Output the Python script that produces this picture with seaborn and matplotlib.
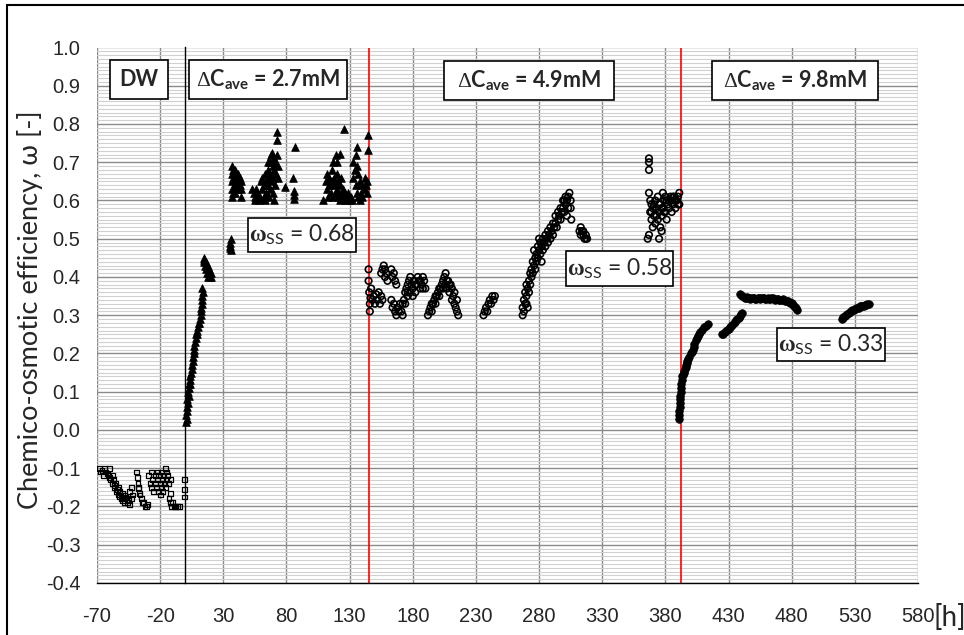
import matplotlib
matplotlib.use("Agg")
import matplotlib.pyplot as plt
from matplotlib.patches import Rectangle
from matplotlib.ticker import MultipleLocator
import numpy as np
import pandas as pd
import seaborn as sns

# ---------------- data: elapsed time [h] vs chemico-osmotic efficiency ----------------
dw_points = [
    (-68, -0.10), (-67, -0.11), (-66, -0.105), (-65, -0.12), (-64, -0.10), (-63, -0.11),
    (-62, -0.115), (-61, -0.12), (-60, -0.10), (-60, -0.125), (-59, -0.13), (-58, -0.12),
    (-58, -0.14), (-57, -0.13), (-56, -0.145), (-56, -0.15), (-55, -0.14), (-55, -0.16),
    (-54, -0.155), (-53, -0.15), (-53, -0.17), (-52, -0.16), (-52, -0.175), (-51, -0.17),
    (-51, -0.18), (-50, -0.165), (-50, -0.185), (-49, -0.18), (-48, -0.19), (-48, -0.17),
    (-47, -0.175), (-46, -0.19), (-45, -0.185), (-44, -0.16), (-44, -0.195), (-43, -0.15),
    (-43, -0.18), (-42, -0.17),
    (-38.5, -0.11), (-38, -0.125), (-37.5, -0.14), (-37.3, -0.152), (-37, -0.15), (-36.5, -0.165),
    (-36, -0.17), (-35, -0.18), (-34, -0.19), (-33, -0.19), (-32, -0.20), (-31, -0.20), (-30, -0.195),
    (-29, -0.12), (-28, -0.14), (-27, -0.11), (-27, -0.15), (-26, -0.13), (-25, -0.16),
    (-24, -0.12), (-24, -0.14), (-23, -0.15), (-22, -0.11), (-22, -0.13), (-21, -0.16),
    (-21, -0.12), (-20, -0.14), (-20, -0.17), (-19, -0.11), (-19, -0.15), (-18, -0.13),
    (-18, -0.16), (-17, -0.12), (-17, -0.14), (-16, -0.10), (-16, -0.15), (-15, -0.13),
    (-15, -0.11), (-14, -0.12), (-13, -0.14), (-12, -0.13),
    (-13, -0.18), (-12, -0.19), (-11, -0.20), (-10, -0.19), (-9, -0.20), (-8, -0.20),
    (-6, -0.20), (-5, -0.20), (-12, -0.165),
    (-1, -0.13), (-1, -0.155), (-0.5, -0.175),
]

c27_points = [
    (0.5, 0.02), (0.5, 0.04), (1, 0.03), (1, 0.06), (1.5, 0.05), (1.5, 0.08), (2, 0.07),
    (2, 0.10), (2.5, 0.09), (3, 0.11), (3, 0.12), (3.5, 0.13), (4, 0.12), (4, 0.14),
    (4.5, 0.15), (5, 0.16), (5.5, 0.17), (6, 0.18), (6, 0.19), (6.5, 0.20), (7, 0.21),
    (7, 0.22), (7.5, 0.23), (8, 0.24), (8.5, 0.25), (9, 0.25), (9.5, 0.26), (10, 0.27),
    (10.5, 0.28), (11, 0.28), (11.5, 0.29), (12, 0.30), (12, 0.31), (12.5, 0.32), (13, 0.33),
    (13, 0.34), (13.5, 0.35), (14, 0.36), (13.5, 0.37),
    (14.5, 0.45), (15, 0.44), (15.5, 0.43), (16, 0.44), (16.5, 0.42), (17, 0.41), (17.5, 0.43),
    (18, 0.40), (18.5, 0.42), (19, 0.41), (19.5, 0.40), (20, 0.41), (20.5, 0.40), (15, 0.445),
    (35, 0.48), (35.5, 0.49), (36, 0.50), (36, 0.47), (35.5, 0.475),
    (37, 0.61), (37, 0.63), (37, 0.65), (37, 0.67), (37, 0.69), (38, 0.62), (38, 0.66),
    (38, 0.68), (39, 0.62), (39, 0.64), (39, 0.66), (39, 0.68), (40, 0.63), (40, 0.65),
    (42, 0.63), (42, 0.65), (42, 0.67), (43, 0.64), (43, 0.66), (44, 0.61), (44, 0.63),
    (44, 0.65),
    (53, 0.63), (54, 0.62), (55, 0.61), (56, 0.63), (57, 0.62), (58, 0.60), (59, 0.61),
    (55, 0.60),
    (60, 0.65), (61, 0.63), (61, 0.66), (62, 0.61), (62, 0.64), (63, 0.67), (63, 0.60),
    (64, 0.65), (64, 0.62), (65, 0.68), (65, 0.64), (66, 0.66), (66, 0.61), (67, 0.70),
    (67, 0.63), (67, 0.67), (68, 0.72), (68, 0.65), (69, 0.69), (69, 0.66), (70, 0.71),
    (70, 0.68), (71, 0.70), (71, 0.64), (72, 0.67), (73, 0.66), (73, 0.69), (72.7, 0.78),
    (72.7, 0.758), (68.3, 0.723), (72.2, 0.719), (65.6, 0.70), (69, 0.62), (70, 0.60),
    (86.5, 0.74), (85, 0.66), (79, 0.635), (86, 0.625), (86, 0.615), (86, 0.605),
    (109, 0.60), (111, 0.65), (112, 0.63), (112, 0.67), (113, 0.61), (114, 0.66), (114, 0.64),
    (115, 0.62), (116, 0.68), (116, 0.65), (117, 0.61), (117, 0.70), (118, 0.64), (118, 0.66),
    (119, 0.62), (119, 0.72), (120, 0.63), (120, 0.67), (121, 0.61), (121, 0.65), (122, 0.64),
    (122, 0.60), (123, 0.62), (123, 0.66), (124, 0.61), (125, 0.63), (126, 0.60), (126, 0.62),
    (127, 0.61), (128, 0.60), (129, 0.62), (130, 0.60), (131, 0.61), (132, 0.60), (133, 0.70),
    (133, 0.66), (134, 0.68), (135.6, 0.74), (135, 0.72), (135, 0.64), (136, 0.69), (136, 0.62),
    (137, 0.67), (137, 0.61), (138, 0.65), (138, 0.60), (139, 0.62), (139, 0.64), (140, 0.61),
    (141, 0.63), (142, 0.66), (143, 0.64), (144.3, 0.771), (144.3, 0.732), (144, 0.65),
    (144, 0.62), (125.5, 0.786), (122.3, 0.722), (120, 0.70),
]

c49_points = [
    (145, 0.42), (145, 0.39), (145.5, 0.36), (146, 0.33), (146, 0.31), (146.5, 0.345),
    (147, 0.37), (148, 0.34), (149, 0.35), (150, 0.33), (151, 0.355), (152, 0.34),
    (153, 0.36), (154, 0.33), (155, 0.35), (156, 0.34), (155, 0.41), (156, 0.42),
    (157, 0.43), (158, 0.40), (158, 0.42), (159, 0.41), (160, 0.39), (163, 0.42),
    (164, 0.40), (165, 0.41), (166, 0.39), (167, 0.38), (163, 0.34), (164, 0.32),
    (165, 0.33), (166, 0.31), (167, 0.30), (168, 0.32), (169, 0.31), (170, 0.33),
    (171, 0.31), (172, 0.33), (173, 0.34), (174, 0.36), (175, 0.37), (176, 0.38),
    (177, 0.39), (178, 0.40), (179, 0.38), (180, 0.37), (181, 0.39), (182, 0.36),
    (183, 0.38), (184, 0.40), (185, 0.39), (186, 0.37), (187, 0.38), (188, 0.40),
    (189, 0.39), (190, 0.37), (176, 0.35), (178, 0.36), (180, 0.35), (172, 0.30),
    (174, 0.33), (176, 0.36), (182, 0.38), (186, 0.39), (188, 0.37),
    (192, 0.30), (193, 0.31), (194, 0.32), (195, 0.31), (196, 0.33), (197, 0.34),
    (198, 0.33), (199, 0.35), (200, 0.36), (201, 0.35), (202, 0.37), (203, 0.38),
    (204, 0.39), (205, 0.40), (206, 0.38), (206, 0.41), (207, 0.37), (208, 0.39),
    (209, 0.36), (210, 0.38), (211, 0.34), (211, 0.37), (212, 0.35), (213, 0.33),
    (213, 0.36), (214, 0.32), (215, 0.34), (215, 0.31), (216, 0.30),
    (195, 0.33), (198, 0.35), (201, 0.37), (204, 0.37), (207, 0.39), (209, 0.38),
    (236, 0.30), (237, 0.31), (238, 0.32), (239, 0.31), (240, 0.33), (241, 0.34),
    (242, 0.33), (243, 0.35), (244, 0.34), (245, 0.35),
    (267, 0.30), (267, 0.32), (268, 0.31), (268, 0.34), (269, 0.33), (269, 0.36),
    (270, 0.35), (270, 0.38), (271, 0.37), (272, 0.36), (272, 0.39), (273, 0.38),
    (274, 0.40), (274, 0.42), (275, 0.41), (276, 0.43), (277, 0.42), (278, 0.44),
    (278, 0.46), (279, 0.45), (280, 0.47), (281, 0.46), (282, 0.44), (282, 0.48),
    (283, 0.47), (284, 0.49), (285, 0.48), (286, 0.50), (287, 0.49), (288, 0.51),
    (289, 0.50), (290, 0.52), (291, 0.51), (292, 0.53), (293, 0.54), (294, 0.53),
    (295, 0.55), (296, 0.56), (297, 0.55), (298, 0.57), (299, 0.58), (300, 0.57),
    (301, 0.59), (302, 0.60), (303, 0.61), (304, 0.62), (303, 0.58), (302, 0.56),
    (305, 0.60), (305, 0.58), (276, 0.47), (280, 0.50), (271, 0.32), (300, 0.60),
    (305.5, 0.55), (270, 0.33), (273, 0.41), (275, 0.44), (277, 0.45), (279, 0.48),
    (281, 0.49), (283, 0.50), (285, 0.51), (287, 0.52), (289, 0.53), (291, 0.54),
    (293, 0.56), (295, 0.57), (297, 0.58), (299, 0.60), (301, 0.61),
    (312, 0.52), (313, 0.51), (314, 0.52), (315, 0.51), (316, 0.50), (317, 0.51),
    (318, 0.50), (313, 0.53), (315, 0.52), (317, 0.50),
    (367, 0.71), (367, 0.70), (367, 0.68), (367, 0.62), (366, 0.50), (367, 0.51),
    (368, 0.60), (368, 0.57), (369, 0.55), (369, 0.59), (370, 0.53), (370, 0.58),
    (371, 0.56), (372, 0.60), (372, 0.54), (373, 0.58), (374, 0.55), (374, 0.61),
    (375, 0.57), (376, 0.59), (377, 0.52), (377, 0.56), (378, 0.58), (379, 0.60),
    (380, 0.57), (380, 0.61), (381, 0.55), (382, 0.59), (383, 0.58), (384, 0.61),
    (385, 0.60), (385, 0.57), (386, 0.59), (387, 0.61), (388, 0.58), (389, 0.60),
    (390, 0.61), (391, 0.59), (391, 0.62), (378, 0.62), (376, 0.53), (375, 0.50),
    (369, 0.57), (371, 0.59), (373, 0.56), (375, 0.59), (377, 0.58), (379, 0.57),
    (381, 0.60), (383, 0.60), (386, 0.61), (388, 0.60), (390, 0.59),
]

c98_points = [
    (391, 0.03), (391, 0.04), (391.1, 0.05), (391.2, 0.06), (391.3, 0.07), (391.5, 0.08),
    (391.7, 0.09), (392, 0.10), (392.2, 0.11), (392.5, 0.12), (393, 0.13), (393.5, 0.14),
    (394, 0.145), (394.5, 0.15), (395, 0.155), (395.5, 0.16), (396, 0.165), (396.5, 0.17),
    (397, 0.175), (397.5, 0.18), (398.3, 0.185), (399, 0.19), (400, 0.20), (400.7, 0.205),
    (401.5, 0.21), (402.3, 0.218), (403, 0.225), (404.5, 0.235), (405.3, 0.24), (406, 0.245),
    (406.8, 0.25), (407.5, 0.255), (409, 0.262), (410.5, 0.268), (412, 0.272), (413.5, 0.276),
    (425, 0.25), (426, 0.252), (427, 0.255), (428, 0.258), (429, 0.262), (430, 0.265),
    (431, 0.268), (432, 0.272), (433, 0.275), (434, 0.279), (435, 0.283), (436, 0.287),
    (437, 0.29), (438, 0.294), (439, 0.298), (440, 0.302), (441, 0.305),
    (439, 0.355), (440, 0.352), (441, 0.35), (442, 0.347), (443, 0.345), (444, 0.346),
    (445, 0.347), (446, 0.345), (447, 0.343), (448, 0.344), (449, 0.345), (450, 0.344),
    (451, 0.342), (452, 0.343), (453, 0.345), (454, 0.344), (455, 0.343), (456, 0.345),
    (457, 0.346), (458, 0.344), (459, 0.342), (460, 0.343), (461, 0.344), (462, 0.343),
    (463, 0.342), (464, 0.344), (465, 0.345), (466, 0.343), (467, 0.341), (468, 0.342),
    (469, 0.343), (470, 0.341), (471, 0.34), (472, 0.341), (473, 0.342), (474, 0.34),
    (475, 0.338), (476, 0.337), (477, 0.336), (478, 0.335), (479, 0.333), (480, 0.331),
    (481, 0.328), (482, 0.325), (483, 0.322), (483.5, 0.318), (484, 0.315),
    (520, 0.29), (520.5, 0.293), (521, 0.295), (522, 0.298), (523, 0.30), (524, 0.303),
    (525, 0.305), (526, 0.308), (527, 0.31), (528, 0.313), (529, 0.315), (530, 0.317),
    (531, 0.318), (532, 0.319), (533, 0.32), (534, 0.323), (535, 0.325), (536, 0.325),
    (537, 0.325), (538, 0.327), (539, 0.328), (540, 0.329), (541, 0.33),
]

stage_boundaries = [145, 392]
x_ticks = list(range(-70, 581, 50))
y_ticks = [round(v / 10, 1) + 0.0 for v in range(-4, 11)]
stage_labels = [
    ("DW", (110, 60, 168, 99)),
    (r"$\Delta\mathit{C}_{\mathit{ave}}$ = 2.7mM", (189, 60, 347, 99)),
    (r"$\Delta\mathit{C}_{\mathit{ave}}$ = 4.9mM", (444, 61, 614, 100)),
    (r"$\Delta\mathit{C}_{\mathit{ave}}$ = 9.8mM", (712, 61, 878, 100)),
]
steady_labels = [
    (r"$\mathbf{\omega}_{\mathsf{SS}}$ = 0.68", (248, 218, 356, 252)),
    (r"$\mathbf{\omega}_{\mathsf{SS}}$ = 0.58", (566, 251, 673, 286)),
    (r"$\mathbf{\omega}_{\mathsf{SS}}$ = 0.33", (777, 328, 885, 361)),
]

# ---------------- styling ----------------
sns.set_style("white")
plt.rcParams["font.family"] = ["Liberation Sans", "DejaVu Sans"]
plt.rcParams["axes.unicode_minus"] = False
plt.rcParams["mathtext.fontset"] = "custom"
plt.rcParams["mathtext.rm"] = "Liberation Serif"
plt.rcParams["mathtext.bf"] = "Liberation Serif:bold"
plt.rcParams["mathtext.it"] = "Lato:bold"
plt.rcParams["mathtext.sf"] = "Lato"

W, H = 964, 635
fig = plt.figure(figsize=(W / 100, H / 100), dpi=100)
fig.patch.set_facecolor("white")

x0, x1, y_top, y_bot = 97, 918, 47.5, 583
ax = fig.add_axes([x0 / W, 1 - y_bot / H, (x1 - x0) / W, (y_bot - y_top) / H])
ax.set_xlim(-70, 580)
ax.set_ylim(-0.4, 1.0)

# grid
ax.set_xticks(x_ticks)
ax.set_yticks(y_ticks)
ax.xaxis.set_minor_locator(MultipleLocator(10))
ax.yaxis.set_minor_locator(MultipleLocator(0.01))
ax.set_axisbelow(True)
ax.xaxis.grid(True, which="major", color="#8a8a8a", lw=1.0)
ax.yaxis.grid(True, which="major", color="#8a8a8a", lw=1.0)
ax.yaxis.grid(True, which="minor", color="#d0d0d0", lw=0.8)

for side in ("top", "right"):
    ax.spines[side].set_visible(False)
ax.spines["left"].set_position(("data", 0))
ax.spines["left"].set_color("black")
ax.spines["left"].set_linewidth(1.0)
ax.spines["bottom"].set_color("black")
ax.spines["bottom"].set_linewidth(1.0)

ax.tick_params(axis="y", which="major", direction="out", length=4, width=1,
               color="black", labelleft=False)
ax.tick_params(axis="y", which="minor", length=0)
ax.tick_params(axis="x", which="major", direction="out", length=6, width=1,
               color="black", labelsize=14.5, pad=11)
ax.tick_params(axis="x", which="minor", direction="in", length=3, width=0.8,
               color="black")
ax.set_xticklabels([str(v) for v in x_ticks])

# y tick labels sit at the left edge of the plotting area
sec = ax.secondary_yaxis("left")
sec.set_yticks(y_ticks)
sec.set_yticklabels([f"{v:.1f}" for v in y_ticks])
sec.spines["left"].set_visible(False)
sec.tick_params(length=0, pad=12, labelsize=14.5)

# stage boundaries
for xb in stage_boundaries:
    ax.axvline(xb, color="red", lw=1.2, zorder=2.5)

# ---------------- scatter series ----------------
dw = pd.DataFrame(dw_points, columns=["t", "omega"])
c27 = pd.DataFrame(c27_points, columns=["t", "omega"])
c49 = pd.DataFrame(c49_points, columns=["t", "omega"])
c98 = pd.DataFrame(c98_points, columns=["t", "omega"])

sns.scatterplot(data=dw, x="t", y="omega", marker="s", s=12, color="black",
                edgecolor="black", linewidth=0.9, ax=ax, zorder=4, legend=False)
ax.collections[-1].set_facecolor("none")
sns.scatterplot(data=c27, x="t", y="omega", marker="^", s=30, color="black",
                edgecolor="black", linewidth=0.6, ax=ax, zorder=4, legend=False)
sns.scatterplot(data=c49, x="t", y="omega", marker="o", s=22, color="black",
                edgecolor="black", linewidth=1.2, ax=ax, zorder=4, legend=False)
ax.collections[-1].set_facecolor("none")
sns.scatterplot(data=c98, x="t", y="omega", marker="o", s=30, color="black",
                edgecolor="black", linewidth=0.5, ax=ax, zorder=4, legend=False)

ax.set_xlabel("")
ax.set_ylabel("")


def pixel_box(text, box, **kw):
    left, top, right, bottom = box
    rect = Rectangle((left / W, 1 - bottom / H), (right - left) / W, (bottom - top) / H,
                     transform=fig.transFigure, facecolor="white", edgecolor="black",
                     lw=1.2, zorder=5)
    fig.add_artist(rect)
    fig.text((left + right) / 2 / W, 1 - (top + bottom) / 2 / H, text,
             ha="center", va="center", zorder=6, **kw)


for text, box in stage_labels:
    pixel_box(text, box, family=["Lato", "DejaVu Sans"], fontweight="bold", fontsize=15.5)
for text, box in steady_labels:
    pixel_box(text, box, family=["Lato", "DejaVu Sans"], fontsize=16.5)

# axis titles
fig.text(30 / W, 1 - 310 / H, "Chemico-osmotic efficiency, ω [-]", rotation=90,
         ha="center", va="center", fontsize=19.5, family=["Lato", "Liberation Serif"])
fig.text(933 / W, 1 - 618 / H, "[h]", ha="left", va="center", fontsize=20,
         family=["Lato", "DejaVu Sans"])

# outer chart frame
fig.add_artist(Rectangle((7 / W, -0.1), 1.2, 1.1 - 5 / H, transform=fig.transFigure,
                         fill=False, edgecolor="black", lw=1.5))

fig.savefig("out.png", dpi=100)
